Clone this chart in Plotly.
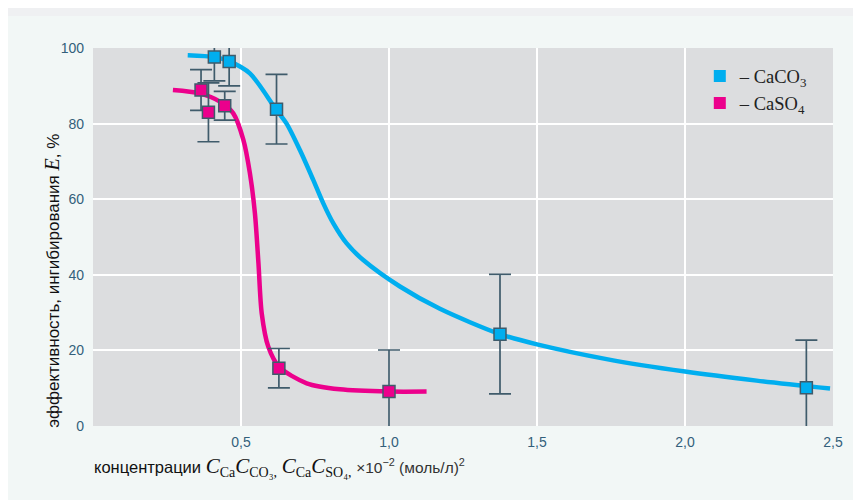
import plotly.graph_objects as go

# measured points
caco3_x = [0.41, 0.46, 0.62, 1.375, 2.41]
caco3_y = [97.6, 96.4, 83.8, 24.3, 10.1]
caco3_err = [6.3, 6.4, 9.2, 15.8, 12.6]

caso4_x = [0.365, 0.39, 0.445, 0.628, 1.0]
caso4_y = [88.9, 83.0, 84.7, 15.3, 9.1]
caso4_err = [5.4, 7.8, 3.8, 5.2, 11.0]

# fitted curves
caco3_curve_x = [0.32, 0.41, 0.463, 0.53, 0.618, 0.654, 0.699, 0.744, 0.778, 0.812, 0.857,
                 0.913, 1.037, 1.172, 1.375, 1.5, 1.735, 2.0, 2.242, 2.49]
caco3_curve_y = [98.1, 97.6, 96.4, 93.3, 83.8, 80.0, 73.0, 65.1, 58.9, 53.6, 48.3,
                 43.9, 36.9, 31.0, 24.3, 21.6, 17.7, 14.4, 12.0, 9.9]

caso4_curve_x = [0.27, 0.361, 0.429, 0.474, 0.508, 0.53, 0.547, 0.559, 0.57, 0.592, 0.628,
                 0.722, 0.834, 1.0, 1.127]
caso4_curve_y = [88.9, 88.0, 85.8, 82.7, 75.7, 66.9, 56.3, 43.0, 29.8, 21.0, 15.7,
                 11.3, 9.7, 9.1, 9.1]

x_ticks = [0.5, 1.0, 1.5, 2.0, 2.5]
x_tick_labels = ["0,5", "1,0", "1,5", "2,0", "2,5"]
y_ticks = [0, 20, 40, 60, 80, 100]

BLUE = "#00aeef"
PINK = "#ec008c"
EDGE = "#3f5b6b"
TICK = "#335f7b"
SERIF = "Liberation Serif, Times New Roman, serif"

fig = go.Figure()
fig.add_trace(go.Scatter(x=caco3_curve_x, y=caco3_curve_y, mode="lines",
                         line=dict(color=BLUE, width=4.5, shape="spline", smoothing=0.8),
                         showlegend=False, hoverinfo="skip"))
fig.add_trace(go.Scatter(x=caso4_curve_x, y=caso4_curve_y, mode="lines",
                         line=dict(color=PINK, width=4.5, shape="spline", smoothing=0.8),
                         showlegend=False, hoverinfo="skip"))
for xs, ys, es, col in [(caco3_x, caco3_y, caco3_err, BLUE), (caso4_x, caso4_y, caso4_err, PINK)]:
    fig.add_trace(go.Scatter(x=xs, y=ys, mode="markers",
                             error_y=dict(type="data", array=es, color=EDGE, thickness=1.7, width=11),
                             marker=dict(symbol="square", size=12, color=col,
                                         line=dict(color=EDGE, width=1.5)),
                             showlegend=False))

fig.add_trace(go.Scatter(x=[None], y=[None], mode="markers", name="– CaCO<sub>3</sub>",
                         marker=dict(symbol="square", size=12, color=BLUE)))
fig.add_trace(go.Scatter(x=[None], y=[None], mode="markers", name="– CaSO<sub>4</sub>",
                         marker=dict(symbol="square", size=12, color=PINK)))

fig.update_layout(
    width=861, height=500,
    paper_bgcolor="#f2f7f6", plot_bgcolor="#dcdddf",
    margin=dict(l=85, r=36, t=40, b=82, autoexpand=False),
    font=dict(family="Liberation Sans, Arial, sans-serif", size=14, color="#111"),
    legend=dict(x=0.82, y=0.975, xanchor="left", yanchor="top", bgcolor="rgba(0,0,0,0)",
                font=dict(family=SERIF, size=18.5, color="#222"),
                itemwidth=30, tracegroupgap=0),
    showlegend=True,
)
fig.update_xaxes(range=[0, 2.5], tickvals=x_ticks, ticktext=x_tick_labels,
                 showgrid=True, gridcolor="#ffffff", gridwidth=1.5, zeroline=False,
                 tickfont=dict(color=TICK, size=14), ticks="", ticklabelstandoff=6,
                 showline=False, automargin=False)
fig.update_yaxes(range=[0, 100], tickvals=y_ticks,
                 showgrid=True, gridcolor="#ffffff", gridwidth=1.5, zeroline=False,
                 tickfont=dict(color=TICK, size=14), ticks="", ticklabelstandoff=8,
                 showline=False, automargin=False)

C = f'<span style="font-family:{SERIF};font-size:21px"><i>C</i></span>'
def sub(t):
    return f'<span style="font-family:{SERIF};font-size:20px"><sub>{t}</sub></span>'

xtitle = (f"концентрации {C}{sub('Ca')}{C}{sub('CO₃,')} "
          f"{C}{sub('Ca')}{C}{sub('SO₄,')} "
          f'<span style="font-size:15.5px;color:#333">×10<sup>−2</sup> (моль/л)<sup>2</sup></span>')
fig.add_annotation(xref="paper", yref="paper", x=-0.002, y=-0.07, xanchor="left", yanchor="top",
                   text=xtitle, showarrow=False, font=dict(size=16.5, color="#111"))
ytitle = ('эффективность, ингибирования '
          f'<span style="font-family:{SERIF};font-size:20px"><i>E</i></span>, %')
fig.add_annotation(xref="paper", yref="paper", x=-0.055, y=0.385, xanchor="center", yanchor="middle",
                   text=ytitle, textangle=-90, showarrow=False, font=dict(size=17, color="#111"))

# thin grey band at the very top of the page
fig.add_shape(type="rect", xref="paper", yref="paper", x0=-0.2, x1=1.1, y0=1.0 + 32/378, y1=1.2,
              fillcolor="#eff0f2", line_width=0, layer="below")

fig.write_html("out.html")
